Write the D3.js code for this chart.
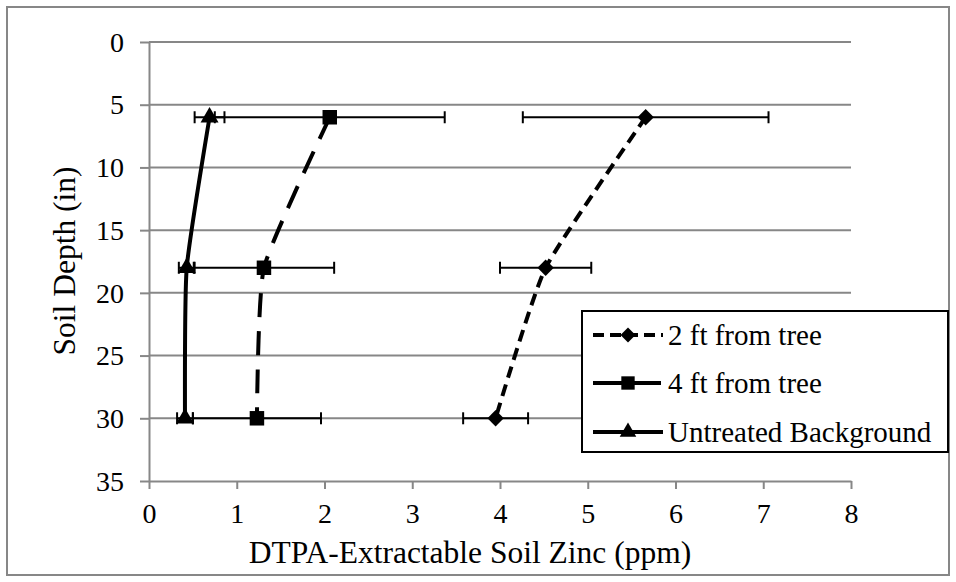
<!DOCTYPE html>
<html><head><meta charset="utf-8">
<script src="https://cdn.jsdelivr.net/npm/d3@7"></script>
<style>body{margin:0;background:#fff}svg{display:block}text{font-family:"Liberation Serif","Times New Roman",serif;fill:#000}</style>
</head><body><svg id="c" width="956" height="582"></svg>
<script>
const depths = [6, 18, 30];
const seriesNames = ["2 ft from tree", "4 ft from tree", "Untreated Background"];
const zinc2ft = [5.66, 4.52, 3.95];
const err2ft = [1.40, 0.52, 0.37];
const zinc4ft = [2.06, 1.31, 1.23];
const err4ft = [1.31, 0.80, 0.73];
const zincUntreated = [0.69, 0.43, 0.41];
const errUntreated = [0.17, 0.09, 0.09];
const xTicks = [0, 1, 2, 3, 4, 5, 6, 7, 8];
const yTicks = [0, 5, 10, 15, 20, 25, 30, 35];

const svg = d3.select("#c");
const grey = "#878787";
svg.append("rect").attr("x", 7).attr("y", 7).attr("width", 942).attr("height", 568)
  .attr("fill", "#fff").attr("stroke", grey).attr("stroke-width", 2);

const x = d3.scaleLinear().domain([0, 8]).range([149, 851]);
const y = d3.scaleLinear().domain([0, 35]).range([42, 481]);

// gridlines
svg.append("g").selectAll("line").data(yTicks.slice(0, -1)).join("line")
  .attr("x1", x(0)).attr("x2", x(8)).attr("y1", d => y(d)).attr("y2", d => y(d))
  .attr("stroke", grey).attr("stroke-width", 2);

// axes
const yAxis = svg.append("g").attr("transform", `translate(${x(0)},0)`)
  .call(d3.axisLeft(y).tickValues(yTicks).tickSize(9).tickPadding(16).tickSizeOuter(0));
const xAxis = svg.append("g").attr("transform", `translate(0,${y(35)})`)
  .call(d3.axisBottom(x).tickValues(xTicks).tickSize(8).tickPadding(14).tickSizeOuter(0));
[xAxis, yAxis].forEach(a => {
  a.attr("font-family", "Liberation Serif");
  a.select(".domain").attr("stroke", grey).attr("stroke-width", 2);
  a.selectAll(".tick line").attr("stroke", grey).attr("stroke-width", 2);
  a.selectAll(".tick text").attr("font-size", 28);
});
yAxis.selectAll(".tick text").attr("dy", "0.33em");

// titles
svg.append("text").attr("x", 470).attr("y", 563).attr("text-anchor", "middle")
  .attr("font-size", 31.5).text("DTPA-Extractable Soil Zinc (ppm)");
svg.append("text").attr("transform", `translate(75,261) rotate(-90)`).attr("text-anchor", "middle")
  .attr("font-size", 31.5).text("Soil Depth (in)");

const diamond = d3.symbolDiamond2 || d3.symbolDiamond;
const series = [
  {name: seriesNames[0], vals: zinc2ft, errs: err2ft, dash: "12,7", sym: diamond, size: 170},
  {name: seriesNames[1], vals: zinc4ft, errs: err4ft, dash: "24,14", sym: d3.symbolSquare, size: 210},
  {name: seriesNames[2], vals: zincUntreated, errs: errUntreated, dash: null, sym: d3.symbolTriangle, size: 140}
];

const line = d3.line().x(d => x(d[0])).y(d => y(d[1])).curve(d3.curveCardinal.tension(0.5));

// error bars
series.forEach(s => {
  const g = svg.append("g").attr("stroke", "#000").attr("stroke-width", 2);
  depths.forEach((dp, i) => {
    const lo = s.vals[i] - s.errs[i], hi = s.vals[i] + s.errs[i], yy = y(dp);
    g.append("line").attr("x1", x(lo)).attr("x2", x(hi)).attr("y1", yy).attr("y2", yy);
    [lo, hi].forEach(v => g.append("line").attr("x1", x(v)).attr("x2", x(v)).attr("y1", yy - 6).attr("y2", yy + 6));
  });
});

// lines and markers
series.forEach(s => {
  const pts = depths.map((dp, i) => [s.vals[i], dp]);
  svg.append("path").attr("d", line(pts)).attr("fill", "none").attr("stroke", "#000")
    .attr("stroke-width", 4).attr("stroke-dasharray", s.dash);
  svg.append("g").selectAll("path").data(pts).join("path")
    .attr("transform", d => `translate(${x(d[0])},${y(d[1])})`)
    .attr("d", d3.symbol(s.sym, s.size)).attr("fill", "#000");
});

// legend
const lg = svg.append("g");
lg.append("rect").attr("x", 582).attr("y", 311).attr("width", 366).attr("height", 141)
  .attr("fill", "#fff").attr("stroke", "#000").attr("stroke-width", 2);
const rows = [335, 383, 432];
const legendDash = ["11,6", "30,8", null];
series.forEach((s, i) => {
  const yy = rows[i];
  lg.append("line").attr("x1", 593).attr("x2", 663).attr("y1", yy).attr("y2", yy)
    .attr("stroke", "#000").attr("stroke-width", 4).attr("stroke-dasharray", legendDash[i]);
  lg.append("path").attr("transform", `translate(628,${yy})`).attr("d", d3.symbol(s.sym, s.size * 0.85)).attr("fill", "#000");
  lg.append("text").attr("x", 668).attr("y", yy).attr("dy", "0.33em").attr("font-size", 29).text(s.name);
});
</script></body></html>
